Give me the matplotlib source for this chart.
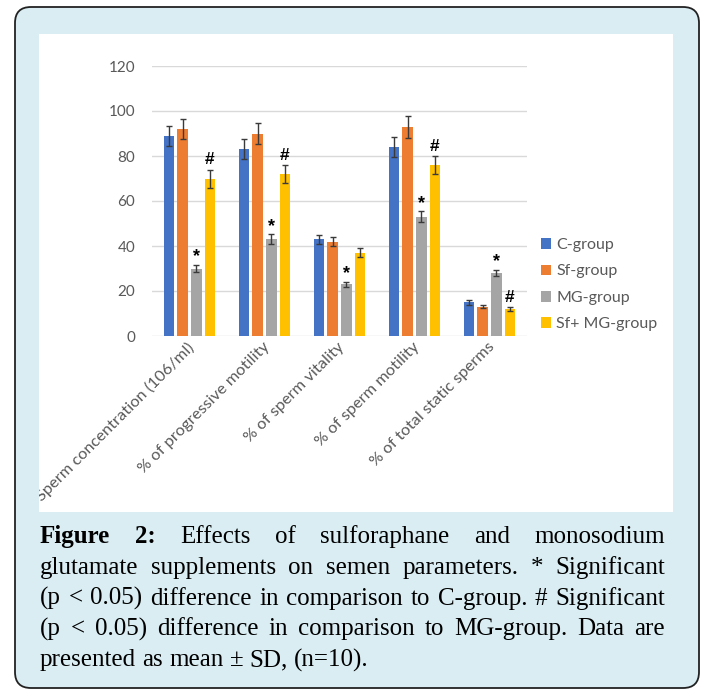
import numpy as np
import matplotlib
matplotlib.use('Agg')
import matplotlib.pyplot as plt
from matplotlib.patches import FancyBboxPatch, Rectangle, Patch
from matplotlib.transforms import Bbox, TransformedBbox

categories = ['Sperm concentration (106/ml)', '% of progressive motility',
              '% of sperm vitality', '% of sperm motility', '% of total static sperms']
groups = ['C-group', 'Sf-group', 'MG-group', 'Sf+ MG-group']
c_group = [89, 83, 43, 84, 15]
sf_group = [92, 90, 42, 93, 13]
mg_group = [30, 43, 23, 53, 28]
sfmg_group = [70, 72, 37, 76, 12]
c_err = [4.5, 4.5, 2.0, 4.5, 1.0]
sf_err = [4.5, 4.5, 2.0, 5.0, 0.7]
mg_err = [1.7, 2.2, 1.2, 2.5, 1.5]
sfmg_err = [4.0, 4.0, 2.0, 4.0, 0.8]
star_mg = [True, True, True, True, True]
hash_sfmg = [True, True, False, True, True]
yticks = [0, 20, 40, 60, 80, 100, 120]

caption_lines = [
    'Figure 2: Effects of sulforaphane and monosodium',
    'glutamate supplements on semen parameters. * Significant',
    '(p < 0.05) difference in comparison to C-group. # Significant',
    '(p < 0.05) difference in comparison to MG-group. Data are',
    'presented as mean \u00b1 SD, (n=10).',
]

colors = ['#4472C4', '#ED7D31', '#A5A5A5', '#FFC000']
grey_txt = '#595959'
W, H = 703, 692

fig = plt.figure(figsize=(W / 100, H / 100), dpi=100)
fig.patch.set_facecolor('white')

# background layer in pixel units
bg = fig.add_axes([0, 0, 1, 1], zorder=0)
bg.set_xlim(0, W)
bg.set_ylim(H, 0)
bg.axis('off')
frame = FancyBboxPatch((15, 7), 684, 681, boxstyle='round,pad=0,rounding_size=16',
                       facecolor='#d9edf2', edgecolor='#222222', linewidth=1.3)
bg.add_patch(frame)
bg.add_patch(Rectangle((39, 34), 634, 478, facecolor='white', edgecolor='none'))

# chart
ax = fig.add_axes([152 / W, 1 - 336 / H, 375 / W, 270 / H], zorder=1)
ax.patch.set_alpha(0)
x = np.arange(len(categories))
step, width = 0.182, 0.14
series = [c_group, sf_group, mg_group, sfmg_group]
errors = [c_err, sf_err, mg_err, sfmg_err]
for k, (vals, errs) in enumerate(zip(series, errors)):
    ax.bar(x + (k - 1.5) * step, vals, width, color=colors[k], yerr=errs,
           error_kw=dict(ecolor='#3a3a3a', elinewidth=1.0, capsize=2, capthick=1.0),
           zorder=3, label=groups[k])

for i in range(len(categories)):
    if star_mg[i]:
        ax.annotate('*', xy=(x[i] + 0.5 * step, mg_group[i] + mg_err[i]),
                    xytext=(0, 5.5), textcoords='offset points', ha='center', va='center',
                    fontsize=13, fontweight='bold', color='black', family='Liberation Sans')
    if hash_sfmg[i]:
        ax.annotate('#', xy=(x[i] + 1.5 * step, sfmg_group[i] + sfmg_err[i]),
                    xytext=(0, 7), textcoords='offset points', ha='center', va='center',
                    fontsize=12.5, fontweight='bold', color='black', family='Liberation Sans')

ax.set_xlim(-0.5, len(categories) - 0.5)
ax.set_ylim(0, 120)
ax.set_yticks(yticks)
ax.set_yticklabels([str(v) for v in yticks], fontsize=11, color=grey_txt, family='Lato')
ax.tick_params(axis='y', length=0, pad=12)
ax.set_xticks([])
ax.grid(axis='y', color='#d9d9d9', linewidth=1.0, zorder=0)
for s in ax.spines.values():
    s.set_visible(False)

clip = TransformedBbox(Bbox([[39 / W, 1 - 512 / H], [673 / W, 1 - 34 / H]]), fig.transFigure)
for i, lab in enumerate(categories):
    t = ax.annotate(lab, xy=(x[i], 0), xycoords=('data', 'axes fraction'),
                    xytext=(2, -6.5), textcoords='offset points', rotation=45,
                    rotation_mode='anchor', ha='right', va='center',
                    fontsize=11.8, color=grey_txt, family='Lato')
    t.set_clip_box(clip)

handles = [Patch(facecolor=c, edgecolor='none') for c in colors]
ax.legend(handles, groups, loc='upper left', bbox_to_anchor=(541 / W, 1 - 238 / H),
          bbox_transform=fig.transFigure, frameon=False, borderpad=0, borderaxespad=0,
          handlelength=0.65, handleheight=0.65, handletextpad=0.3, labelspacing=0.78,
          prop={'family': 'Lato', 'size': 11.5}, labelcolor=grey_txt)

# justified caption
renderer = fig.canvas.get_renderer()
x0, x1 = 40, 665
base0, lead = 543, 30.8


def measure(word, size, bold):
    t = bg.text(0, 0, word, fontsize=size, family='Liberation Serif',
                fontweight='bold' if bold else 'normal')
    w = t.get_window_extent(renderer).width
    t.remove()
    return w


size = 18.0
while True:
    too_wide = False
    for n, line in enumerate(caption_lines):
        words = line.split(' ')
        ws = [measure(w, size, n == 0 and j < 2) for j, w in enumerate(words)]
        if sum(ws) + 0.05 * size * 1.39 * (len(words) - 1) > x1 - x0:
            too_wide = True
            break
    if not too_wide:
        break
    size -= 0.1

space = measure('a a', size, False) - 2 * measure('a', size, False)
for n, line in enumerate(caption_lines):
    words = line.split(' ')
    bold = [n == 0 and j < 2 for j in range(len(words))]
    ws = [measure(w, size, b) for w, b in zip(words, bold)]
    last = n == len(caption_lines) - 1
    gap = space if last else (x1 - x0 - sum(ws)) / (len(words) - 1)
    xp = x0
    for w, wd, b in zip(words, ws, bold):
        bg.text(xp, base0 + n * lead, w, fontsize=size, family='Liberation Serif',
                fontweight='bold' if b else 'normal', va='baseline', ha='left', color='black')
        xp += wd + gap

fig.savefig('out.png', dpi=100)
